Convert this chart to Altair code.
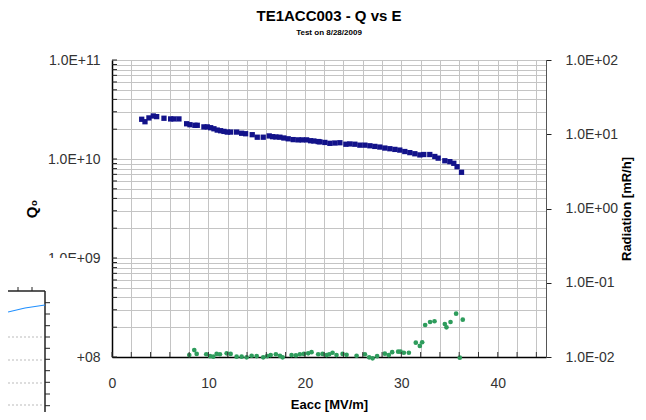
import altair as alt
import pandas as pd

# ---- data ----
E_q = [3.08, 3.42, 3.83, 4.28, 4.63, 5.39, 6.08, 6.42, 6.94, 7.74, 8.08, 8.60, 8.84,
       9.53, 9.88, 10.23, 10.57, 10.91, 11.26, 11.61, 11.95, 12.30, 12.92, 13.44, 13.85,
       14.54, 15.06, 15.68, 16.30, 16.65, 16.99, 17.41, 17.82, 18.27, 18.79, 19.31, 19.72,
       20.18, 20.59, 20.93, 21.38, 21.55, 22.07, 22.59, 23.11, 23.63, 24.25, 24.66, 25.18,
       25.70, 26.22, 26.74, 27.25, 27.77, 28.29, 28.81, 29.33, 29.84, 30.36, 30.88, 31.40,
       31.92, 32.33, 32.95, 33.47, 33.82, 34.51, 35.03, 35.44, 35.78, 36.24]
Q0 = [2.52e10, 2.38e10, 2.60e10, 2.72e10, 2.68e10, 2.58e10, 2.54e10, 2.54e10, 2.54e10,
      2.27e10, 2.22e10, 2.19e10, 2.19e10, 2.11e10, 2.11e10, 2.07e10, 2.02e10, 1.96e10,
      1.93e10, 1.90e10, 1.87e10, 1.87e10, 1.87e10, 1.82e10, 1.80e10, 1.76e10, 1.66e10,
      1.66e10, 1.71e10, 1.68e10, 1.67e10, 1.66e10, 1.63e10, 1.60e10, 1.57e10, 1.56e10,
      1.56e10, 1.56e10, 1.53e10, 1.52e10, 1.50e10, 1.49e10, 1.47e10, 1.44e10, 1.45e10,
      1.46e10, 1.41e10, 1.42e10, 1.41e10, 1.38e10, 1.38e10, 1.36e10, 1.34e10, 1.32e10,
      1.29e10, 1.27e10, 1.25e10, 1.23e10, 1.19e10, 1.16e10, 1.13e10, 1.10e10, 1.11e10,
      1.11e10, 1.06e10, 1.02e10, 9.6e9, 9.4e9, 9.05e9, 8.36e9, 7.34e9]

E_r = [8.01, 8.53, 8.78, 9.77, 10.16, 10.50, 10.85, 11.19, 11.89, 12.30, 12.92, 13.44,
       13.96, 14.48, 15.00, 15.68, 16.09, 16.45, 16.99, 17.41, 17.69, 18.62, 19.07, 19.48,
       19.90, 20.34, 20.69, 21.38, 21.83, 22.25, 22.52, 22.87, 23.28, 23.91, 24.32, 25.36,
       26.22, 26.66, 27.02, 27.49, 28.29, 28.70, 29.05, 29.67, 29.92, 30.26, 30.78, 31.50,
       31.92, 32.16, 32.47, 32.98, 33.44, 34.51, 34.68, 35.10, 35.68, 36.37, 36.06]
radiation = [0.0106, 0.0124, 0.0110, 0.0109, 0.0103, 0.0101, 0.0110, 0.0109, 0.0112,
             0.0110, 0.0101, 0.0101, 0.0099, 0.0104, 0.0103, 0.0099, 0.0103, 0.0106,
             0.0109, 0.0104, 0.0099, 0.0106, 0.0105, 0.0109, 0.0110, 0.0112, 0.0116,
             0.0109, 0.0110, 0.0106, 0.0109, 0.0114, 0.0106, 0.0110, 0.0107, 0.0104,
             0.0109, 0.0099, 0.0096, 0.0103, 0.0111, 0.0106, 0.0116, 0.0118, 0.0118,
             0.0114, 0.0114, 0.0156, 0.0141, 0.0158, 0.0270, 0.0296, 0.0303, 0.0278,
             0.0251, 0.0296, 0.0383, 0.0318, 0.0098]

q_grid = [k * 10.0 ** n for n in (8, 9, 10) for k in range(1, 10)] + [1e11]
r_ticks = [0.01, 0.1, 1, 10, 100]
x_grid = list(range(0, 46, 2))

TITLE = "TE1ACC003 - Q vs E"
SUBTITLE = "Test on 8/28/2009"
X_TITLE = "Eacc [MV/m]"
Y_TITLE = "Q₀"
Y2_TITLE = "Radiation [mR/h]"

FONT = "Liberation Sans"

dfq = pd.DataFrame({"E": E_q, "Q": Q0})
dfr = pd.DataFrame({"E": E_r, "R": radiation})
dfqt = pd.DataFrame({"Q": q_grid})
dfxt = pd.DataFrame({"E": x_grid})
one = pd.DataFrame({"a": [0]})

xscale = alt.Scale(domain=[0, 45], nice=False, zero=False)
qscale = alt.Scale(type="log", domain=[1e8, 1e11], nice=False)
rscale = alt.Scale(type="log", domain=[0.01, 100], nice=False)

q_label = ("abs(log(datum.value)/LN10 - round(log(datum.value)/LN10)) < 0.001 ? "
           "(round(log(datum.value)/LN10) < 10 ? '1.0E+0' : '1.0E+') + round(log(datum.value)/LN10) : ''")
r_label = ("(round(log(datum.value)/LN10) < 0 ? '1.0E-0' : '1.0E+0') + abs(round(log(datum.value)/LN10))")

x_axis = alt.Axis(
    values=x_grid, labelExpr="datum.value % 10 == 0 ? datum.label : ''",
    title=X_TITLE, ticks=False, labelPadding=19, titlePadding=8,
    grid=True, gridColor="#c4c4c4", gridWidth=1,
    domainColor="#000", domainWidth=1.5, labelFontSize=14, labelColor="#333",
    labelFont=FONT, titleFont=FONT, titleFontSize=13, titleFontWeight="bold",
    titleColor="#000", labelFlush=False, labelOverlap=False, zindex=0)

X = alt.X("E:Q", scale=xscale, axis=x_axis)

blue = alt.Chart(dfq).mark_square(size=28, color="#12128a", opacity=1).encode(
    x=X,
    y=alt.Y("Q:Q", scale=qscale, axis=alt.Axis(
        values=q_grid, labelExpr=q_label, title=Y_TITLE, orient="left",
        ticks=False, labelPadding=12, titlePadding=8,
        grid=True, gridColor="#c4c4c4", gridWidth=1,
        domainColor="#000", domainWidth=1.5, labelFontSize=14, labelColor="#333",
        labelFont=FONT, titleFont=FONT, titleFontSize=15, titleFontWeight="bold",
        titleColor="#000", labelFlush=False, labelOverlap=False, zindex=0)),
)

green = alt.Chart(dfr).mark_circle(size=22, color="#2e9c5c", opacity=1).encode(
    x=X,
    y=alt.Y("R:Q", scale=rscale, axis=alt.Axis(
        values=r_ticks, labelExpr=r_label, title=Y2_TITLE, orient="right",
        titleAngle=270,
        tickSize=5, tickColor="#222", labelPadding=14, titlePadding=16, grid=False,
        domainColor="#555", domainWidth=1, labelFontSize=14, labelColor="#333",
        labelFont=FONT, titleFont=FONT, titleFontSize=13, titleFontWeight="bold",
        titleColor="#000", labelFlush=False, labelOverlap=False, zindex=0)),
)

qticks = alt.Chart(dfqt).mark_rule(color="#222", strokeWidth=1).encode(
    y=alt.Y("Q:Q", scale=qscale, axis=None),
    x=alt.value(0), x2=alt.value(5),
)
xticks = alt.Chart(dfxt).mark_rule(color="#333", strokeWidth=1).encode(
    x=X,
    y=alt.value(297), y2=alt.value(292),
)

# ---- overlapping fragment of another chart in the lower-left corner ----
def seg(x1, y1, x2, y2, color="#222", width=1.0, dash=None):
    kw = dict(color=color, strokeWidth=width)
    if dash:
        kw["strokeDash"] = dash
    return alt.Chart(one).mark_rule(**kw).encode(
        x=alt.value(x1), x2=alt.value(x2), y=alt.value(y1), y2=alt.value(y2))

inset = [alt.Chart(one).mark_rect(color="white", opacity=1).encode(
    x=alt.value(-104), x2=alt.value(-35), y=alt.value(198), y2=alt.value(360))]
for yy in (277, 300, 323, 345):
    inset.append(seg(-104, yy, -69, yy, color="#bbbbbb", width=1, dash=[2, 2]))
inset.append(seg(-104, 231, -67, 231, width=1.5))
inset.append(seg(-67, 231, -67, 360, width=1.5))
for xx in (-94, -80):
    inset.append(seg(xx, 227, xx, 231, width=1))
for yy in (242.7, 254, 265.7, 277, 288.3, 299.3, 310.7, 322.3, 334, 345.7):
    inset.append(seg(-67, yy, -62, yy, width=1))
inset.append(seg(-104, 252, -87, 248, color="#1f8fff", width=1.2))
inset.append(seg(-87, 248, -67, 245, color="#1f8fff", width=1.2))

chart = alt.layer(blue, green, qticks, xticks, *inset).resolve_scale(
    y="independent"
).properties(
    width=434, height=297,
    title=alt.TitleParams(
        text=TITLE, subtitle=SUBTITLE, font=FONT, fontSize=15,
        fontWeight="bold", color="#000", subtitleFont=FONT,
        subtitleFontSize=8, subtitleFontWeight="bold", subtitleColor="#000",
        anchor="middle", offset=16, subtitlePadding=5),
    autosize=alt.AutoSizeParams(type="none"),
    padding={"left": 104, "top": 52, "right": 92, "bottom": 55},
).configure_view(stroke="#666", strokeWidth=1)

chart.save("out.html", embed_options={"renderer": "svg", "actions": False})
